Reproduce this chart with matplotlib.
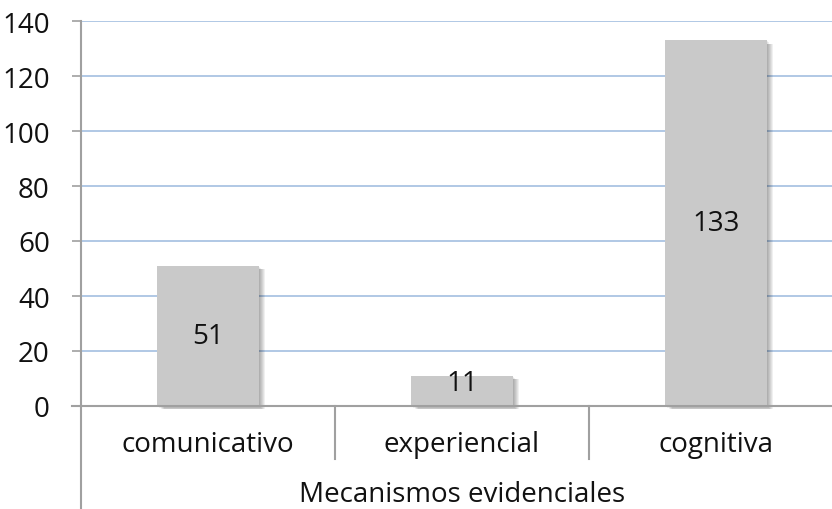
import matplotlib
matplotlib.use("Agg")
import matplotlib.pyplot as plt
import matplotlib.patheffects as pe

# Data
categories = ["comunicativo", "experiencial", "cognitiva"]
counts = [51, 11, 133]
group_label = "Mecanismos evidenciales"
yticks = [0, 20, 40, 60, 80, 100, 120, 140]

plt.rcParams['font.family'] = ['Open Sans', 'DejaVu Sans']

fig = plt.figure(figsize=(8.32, 5.10), dpi=100)
ax = fig.add_axes([81/832, 103/510, 762/832, 385/510])

axis_grey = "#a0a0a0"
grid_blue = "#a3bfe0"
fs = 20

x = list(range(len(categories)))

# soft drop shadow built from a few stacked offset copies
shadow = [pe.SimplePatchShadow(offset=(d, -min(d, 2.5)), shadow_rgbFace="black",
                               alpha=0.06)
          for d in (0.8, 1.6, 2.4, 3.2, 4.0, 4.8)]
bars = ax.bar(x, counts, width=0.4, color="#c9c9c9", zorder=3)
for b in bars:
    b.set_path_effects(shadow + [pe.Normal()])
    b.set_clip_on(False)

for xi, v in zip(x, counts):
    ax.text(xi, max(v / 2, 8.5), str(v), ha="center", va="center",
            fontsize=fs, color="#111111", zorder=5)

ax.set_xlim(-0.5, 2.5)
ax.set_ylim(0, 140)
ax.set_yticks(yticks)
ax.tick_params(axis="y", labelsize=fs, length=6.5, width=1.2, color=axis_grey,
               pad=16, labelcolor="#111111")
ax.set_xticks([])

ax.grid(axis="y", color=grid_blue, linewidth=1.2, zorder=0)
ax.set_axisbelow(True)

for s in ("top", "right"):
    ax.spines[s].set_visible(False)
for s in ("left", "bottom"):
    ax.spines[s].set_color(axis_grey)
    ax.spines[s].set_linewidth(1.5)
    ax.spines[s].set_zorder(4)

# multi-level category axis: dividers, outer line and labels
trans = ax.get_xaxis_transform()
ax.plot([-0.5, -0.5], [0, -0.27], transform=trans, color=axis_grey,
        linewidth=1.5, clip_on=False)
ax.plot([-0.5 - 9/254, -0.5], [0, 0], transform=trans, color=axis_grey,
        linewidth=1.5, clip_on=False)
for d in (0.5, 1.5):
    ax.plot([d, d], [0, -0.138], transform=trans, color=axis_grey,
            linewidth=1.5, clip_on=False)

for xi, name in zip(x, categories):
    ax.text(xi, -0.099, name, transform=trans, ha="center", va="center",
            fontsize=fs, color="#111111")
ax.text(1, -0.229, group_label, transform=trans, ha="center", va="center",
        fontsize=fs, color="#111111")

fig.savefig("out.png", dpi=100)
